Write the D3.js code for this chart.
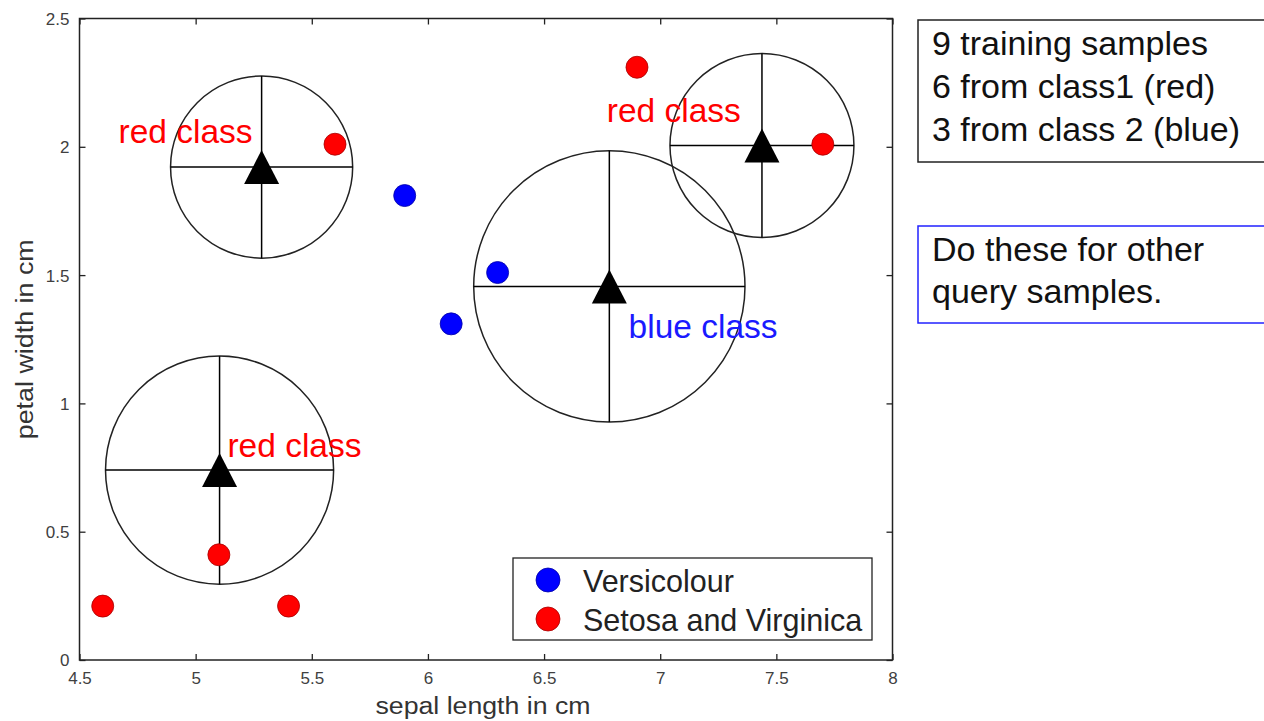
<!DOCTYPE html>
<html>
<head>
<meta charset="utf-8">
<script src="https://cdn.jsdelivr.net/npm/d3@7"></script>
<style>
  body { margin: 0; background: #fff; }
  svg { font-family: "Liberation Sans", Arial, sans-serif; }
</style>
</head>
<body>
<div id="chart"></div>
<script>
// training samples: sepal length, petal width
var versicolour = [[5.9, 1.81], [6.3, 1.51], [6.1, 1.31]];
var setosaVirginica = [[4.6, 0.21], [5.1, 0.41], [5.4, 0.21], [5.6, 2.01], [6.9, 2.31], [7.7, 2.01]];

// query samples and radius of their neighbourhood (in sepal-length units)
var queries = [[5.284, 1.921], [5.103, 0.740], [6.781, 1.456], [7.438, 2.005]];
var radii = [0.392, 0.491, 0.584, 0.396];

// class labels next to the queries
var labelText = ["red class", "red class", "blue class", "red class"];
var labelColor = ["#ff0000", "#ff0000", "#1a1aff", "#ff0000"];
var labelPos = [[4.668, 2.015], [5.137, 0.791], [6.864, 1.255], [6.77, 2.097]];

var xTicks = [4.5, 5, 5.5, 6, 6.5, 7, 7.5, 8];
var yTicks = [0, 0.5, 1, 1.5, 2, 2.5];

var legendNames = ["Versicolour", "Setosa and Virginica"];
var legendColors = ["#0000ff", "#ff0000"];

var noteLines = ["9 training samples", "6 from class1 (red)", "3 from class 2 (blue)"];
var todoLines = ["Do these for other", "query samples."];

var W = 1264, H = 721;
var plotL = 79.5, plotR = 892.5, plotT = 18.5, plotB = 660;

var svg = d3.select("#chart").append("svg")
  .attr("width", W).attr("height", H);

var x = d3.scaleLinear().domain([4.5, 8]).range([plotL, plotR]);
var y = d3.scaleLinear().domain([0, 2.5]).range([plotB, plotT]);

// frame
svg.append("rect")
  .attr("x", plotL).attr("y", plotT)
  .attr("width", plotR - plotL).attr("height", plotB - plotT)
  .attr("fill", "none").attr("stroke", "#222").attr("stroke-width", 1.5);

// ticks on all four sides, pointing inward
var fmt = function(d) { return String(d); };
var gxb = svg.append("g").attr("transform", "translate(0," + plotB + ")")
  .call(d3.axisBottom(x).tickValues(xTicks).tickSize(-6).tickPadding(12).tickFormat(fmt));
var gxt = svg.append("g").attr("transform", "translate(0," + plotT + ")")
  .call(d3.axisTop(x).tickValues(xTicks).tickSize(-6).tickFormat(""));
var gyl = svg.append("g").attr("transform", "translate(" + plotL + ",0)")
  .call(d3.axisLeft(y).tickValues(yTicks).tickSize(-6).tickPadding(10).tickFormat(fmt));
var gyr = svg.append("g").attr("transform", "translate(" + plotR + ",0)")
  .call(d3.axisRight(y).tickValues(yTicks).tickSize(-6).tickFormat(""));

[gxb, gxt, gyl, gyr].forEach(function(g) {
  g.select(".domain").remove();
  g.selectAll(".tick line").attr("stroke", "#222").attr("stroke-width", 1.3);
  g.selectAll(".tick text").attr("fill", "#404040")
    .style("font-size", "17px").style("font-family", "Liberation Sans, Arial, sans-serif");
});
gyl.selectAll(".tick text").attr("dy", "0.35em");

// axis titles
svg.append("text")
  .attr("x", (plotL + plotR) / 2 - 3).attr("y", 714)
  .attr("text-anchor", "middle")
  .attr("fill", "#333").style("font-size", "23px")
  .attr("textLength", 215).attr("lengthAdjust", "spacingAndGlyphs")
  .text("sepal length in cm");

svg.append("text")
  .attr("transform", "translate(33," + ((plotT + plotB) / 2) + ") rotate(-90)")
  .attr("text-anchor", "middle")
  .attr("fill", "#333").style("font-size", "23px")
  .attr("textLength", 200).attr("lengthAdjust", "spacingAndGlyphs")
  .text("petal width in cm");

// neighbourhood circles with crosses
var nb = svg.append("g").selectAll("g")
  .data(queries).enter().append("g");

function rPix(d, i) { return x(d[0] + radii[i]) - x(d[0]); }

nb.append("circle")
  .attr("cx", function(d) { return x(d[0]); })
  .attr("cy", function(d) { return y(d[1]); })
  .attr("r", rPix)
  .attr("fill", "none").attr("stroke", "#222").attr("stroke-width", 1.5);

nb.append("line")
  .attr("x1", function(d, i) { return x(d[0]) - rPix(d, i); })
  .attr("x2", function(d, i) { return x(d[0]) + rPix(d, i); })
  .attr("y1", function(d) { return y(d[1]); })
  .attr("y2", function(d) { return y(d[1]); })
  .attr("stroke", "#000").attr("stroke-width", 1.5);

nb.append("line")
  .attr("x1", function(d) { return x(d[0]); })
  .attr("x2", function(d) { return x(d[0]); })
  .attr("y1", function(d, i) { return y(d[1]) - rPix(d, i); })
  .attr("y2", function(d, i) { return y(d[1]) + rPix(d, i); })
  .attr("stroke", "#000").attr("stroke-width", 1.5);

// training points
function drawPoints(data, color) {
  svg.append("g").selectAll("circle")
    .data(data).enter().append("circle")
    .attr("cx", function(d) { return x(d[0]); })
    .attr("cy", function(d) { return y(d[1]); })
    .attr("r", 11)
    .attr("fill", color)
    .attr("stroke", d3.color(color).darker(1.2)).attr("stroke-width", 0.8);
}
drawPoints(versicolour, "#0000ff");
drawPoints(setosaVirginica, "#ff0000");

// query triangles
svg.append("g").selectAll("path")
  .data(queries).enter().append("path")
  .attr("d", function(d) {
    var cx = x(d[0]), cy = y(d[1]);
    return "M" + cx + "," + (cy - 17) + "L" + (cx + 17.5) + "," + (cy + 17) +
      "L" + (cx - 17.5) + "," + (cy + 17) + "Z";
  })
  .attr("fill", "#000");

// class labels
svg.append("g").selectAll("text")
  .data(labelText).enter().append("text")
  .attr("x", function(d, i) { return x(labelPos[i][0]); })
  .attr("y", function(d, i) { return y(labelPos[i][1]); })
  .attr("fill", function(d, i) { return labelColor[i]; })
  .style("font-size", "33.5px")
  .text(function(d) { return d; });

// legend
var lg = svg.append("g");
lg.append("rect")
  .attr("x", 513).attr("y", 558).attr("width", 359).attr("height", 82)
  .attr("fill", "#fff").attr("stroke", "#222").attr("stroke-width", 1.3);
legendNames.forEach(function(name, i) {
  var cy = 580 + i * 39;
  lg.append("circle").attr("cx", 548).attr("cy", cy).attr("r", 12)
    .attr("fill", legendColors[i])
    .attr("stroke", d3.color(legendColors[i]).darker(1.2)).attr("stroke-width", 0.8);
  lg.append("text").attr("x", 583).attr("y", cy + 12)
    .attr("fill", "#222").style("font-size", "30.5px")
    .text(name);
});

// side notes
svg.append("rect")
  .attr("x", 918).attr("y", 20).attr("width", 360).attr("height", 142)
  .attr("fill", "none").attr("stroke", "#222").attr("stroke-width", 1.5);
noteLines.forEach(function(t, i) {
  svg.append("text").attr("x", 932).attr("y", 55 + i * 43)
    .attr("fill", "#111").style("font-size", "34px").text(t);
});

svg.append("rect")
  .attr("x", 918).attr("y", 226).attr("width", 360).attr("height", 97)
  .attr("fill", "none").attr("stroke", "#2222ff").attr("stroke-width", 1.5);
todoLines.forEach(function(t, i) {
  svg.append("text").attr("x", 932).attr("y", 261 + i * 42)
    .attr("fill", "#111").style("font-size", "34px").text(t);
});
</script>
</body>
</html>
